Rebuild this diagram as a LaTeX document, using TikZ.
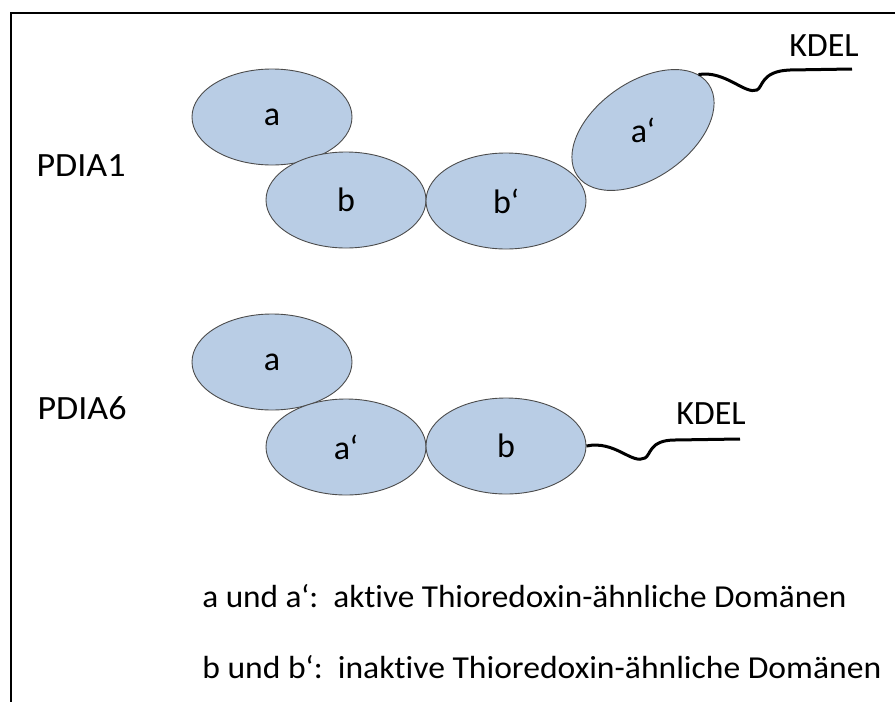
\documentclass[tikz,border=0pt]{standalone}
\usepackage{fontspec}
\setmainfont[Ligatures=NoCommon]{Carlito}
\usepackage{tikz}
\usetikzlibrary{shapes.geometric}
\definecolor{domfill}{HTML}{B9CDE5}

\begin{document}
\begin{tikzpicture}[x=1pt, y=-1pt,
         font=\fontsize{34}{38}\selectfont,
         semithick]
  \tikzstyle{dombox}=[draw=black!70, line width=0.9pt, fill=domfill, shape=ellipse,
                      minimum width=160pt, minimum height=96pt, inner sep=0pt]
  \tikzstyle{tail}=[draw=black, line width=3pt]
  \tikzstyle{empt} = [draw=none,fill=none, inner sep=0pt]
  \tikzstyle{legend} = [empt, anchor=base west, font=\fontsize{32}{38}\selectfont]
\useasboundingbox (0,0) rectangle (895,702);
% frame
\draw[line width=2pt] (11,702) -- (11,13) -- (895,13);
\begin{scope}
% PDIA1
\node[empt] (p1) at (81,166) {\scalebox{1.06}[1]{PDIA1}};
\node[dombox] (a1) at (272,117) {a};
\node[dombox] (b1) at (346,200) {b};
\node[dombox] (bp1) at (506,201) {b‘};
\node[dombox, rotate=35] (ap1) at (643,130) {\rotatebox{-35}{a‘}};
\node[empt] (k1) at (824,46) {KDEL};
\coordinate (e1) at (852,69);
\path[tail] (ap1.10) .. controls (725,70) and (745,95) .. (757,90)
   .. controls (763,87) and (761,71) .. (790,70) -- (e1);
\end{scope}
\begin{scope}
% PDIA6
\node[empt] (p6) at (82,408) {\scalebox{1.06}[1]{PDIA6}};
\node[dombox] (a6) at (272,362) {a};
\node[dombox] (ap6) at (346,447) {a‘};
\node[dombox] (b6) at (506,446) {b};
\node[empt] (k6) at (711,414) {KDEL};
\coordinate (e6) at (740,439);
\path[tail] (b6.east) .. controls (615,440) and (632,465) .. (645,458)
   .. controls (651,455) and (649,440) .. (675,440) -- (e6);
\end{scope}
% legend
\node[legend] (l1) at (202,607) {\scalebox{1.04}[1]{a und a‘:\ \ aktive Thioredoxin-ähnliche Domänen}};
\node[legend] (l2) at (202,678) {\scalebox{1.05}[1]{b und b‘:\ \ inaktive Thioredoxin-ähnliche Domänen}};
\end{tikzpicture}
\end{document}
